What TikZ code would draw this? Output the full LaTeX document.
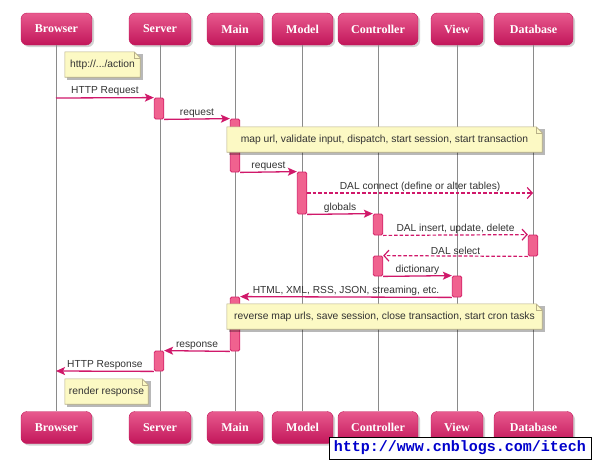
\documentclass[tikz,border=0pt]{standalone}
\usepackage{fontspec}
\setmainfont{Liberation Sans}
\newfontfamily\hdrfont{Liberation Serif}
\newfontfamily\wmfont{Liberation Mono}
\usetikzlibrary{arrows.meta,shadows}
\definecolor{pinkA}{HTML}{E85A8E}
\definecolor{pinkB}{HTML}{C2165A}
\definecolor{actfill}{HTML}{F0628F}
\definecolor{actdraw}{HTML}{D42068}
\definecolor{msgcol}{HTML}{D0186A}
\definecolor{notefill}{HTML}{FCF9C4}
\definecolor{notedraw}{HTML}{B8B088}
\definecolor{lifecol}{HTML}{8A8A8A}
\definecolor{txtcol}{HTML}{333333}
\tikzset{
  hdr/.style={rounded corners=6pt, top color=pinkA, bottom color=pinkB, draw=pinkB,
    text=white, font=\hdrfont\bfseries\fontsize{12}{14}\selectfont,
    minimum height=32pt, inner sep=0pt,
    drop shadow={opacity=0.35, shadow xshift=2pt, shadow yshift=-2pt}},
  life/.style={draw=lifecol, line width=1pt},
  act/.style={draw=actdraw, fill=actfill, line width=0.8pt, rounded corners=1.5pt,
    minimum width=9.5pt, inner sep=0pt},
  noteframe/.style={inner sep=0pt, minimum height=25pt},
  notetext/.style={inner sep=0pt, font=\fontsize{10.3}{12}\selectfont, text=txtcol},
  notebd/.style={draw=notedraw, line width=0.6pt},
  msg/.style={draw=msgcol, line width=1.3pt, -{Stealth[length=9pt,width=8pt,inset=2pt]}},
  dmsg/.style={draw=msgcol, line width=1.2pt, dash pattern=on 3.5pt off 2pt,
    -{Straight Barb[length=5pt,width=11pt,line width=1.2pt]}},
  lbl/.style={midway, above, inner sep=1.2pt, text=txtcol, font=\fontsize{10.2}{12}\selectfont},
}
% #1 name, #2 position, #3 width, #4 text
\newcommand{\umlnote}[4]{%
  \node[noteframe, minimum width=#3] (#1) at (#2) {};
  \fill[black, opacity=0.28] ([xshift=2.5pt,yshift=-2.5pt]#1.south west) -- ([xshift=2.5pt,yshift=-2.5pt]#1.north west)
    -- ([xshift=2.5pt,yshift=-2.5pt]#1.north east) -- ([xshift=2.5pt,yshift=-2.5pt]#1.south east) -- cycle;
  \draw[notebd, fill=notefill] (#1.south west) -- (#1.north west) -- ([xshift=-6pt]#1.north east)
    -- ([yshift=-6pt]#1.north east) -- (#1.south east) -- cycle;
  \draw[notebd] ([xshift=-6pt]#1.north east) -- ([xshift=-6pt,yshift=-6pt]#1.north east)
    -- ([yshift=-6pt]#1.north east);
  \node[notetext] at (#1.center) {#4};
}
\begin{document}
\begin{tikzpicture}[x=1pt,y=-1pt]
\useasboundingbox[fill=white] (0,0) rectangle (594,463);

% headers
\node[hdr, minimum width=71pt] (hB) at (56.5,29) {Browser};
\node[hdr, minimum width=62pt] (hS) at (160,29) {Server};
\node[hdr, minimum width=56pt] (hM) at (235,29) {Main};
\node[hdr, minimum width=61pt] (hMo) at (302.5,29) {Model};
\node[hdr, minimum width=80pt] (hC) at (378,29) {Controller};
\node[hdr, minimum width=52pt] (hV) at (457,29) {View};
\node[hdr, minimum width=79pt] (hD) at (533.5,29) {Database};
% footers
\node[hdr, minimum width=71pt] (fB) at (56.5,427.5) {Browser};
\node[hdr, minimum width=62pt] (fS) at (160,427.5) {Server};
\node[hdr, minimum width=56pt] (fM) at (235,427.5) {Main};
\node[hdr, minimum width=61pt] (fMo) at (302.5,427.5) {Model};
\node[hdr, minimum width=80pt] (fC) at (378,427.5) {Controller};
\node[hdr, minimum width=52pt] (fV) at (457,427.5) {View};
\node[hdr, minimum width=79pt] (fD) at (533.5,427.5) {Database};

% lifelines
\foreach \a/\b in {hB/fB,hS/fS,hM/fM,hMo/fMo,hC/fC,hV/fV,hD/fD}
  \draw[life] (\a.south) -- (\b.north);

% activations
\node[act, minimum height=21pt] (aS1) at (159,108.5) {};
\node[act, minimum height=53pt] (aM1) at (235,145.5) {};
\node[act, minimum height=42pt] (aMo) at (302,193) {};
\node[act, minimum height=21pt] (aC1) at (378,224.5) {};
\node[act, minimum height=21pt] (aD) at (533,245.5) {};
\node[act, minimum height=20pt] (aC2) at (378,266) {};
\node[act, minimum height=21pt] (aV) at (457,286.5) {};
\node[act, minimum height=54pt] (aM2) at (235,324) {};
\node[act, minimum height=20pt] (aS2) at (159,361) {};

% notes
\umlnote{n1}{102.5,64.5}{75pt}{http://.../action}
\umlnote{n2}{384.5,139.5}{315pt}{map url, validate input, dispatch, start session, start transaction}
\umlnote{n3}{384.5,316.5}{315pt}{reverse map urls, save session, close transaction, start cron tasks}
\umlnote{n4}{106.5,391.5}{83pt}{render response}

% free ends
\coordinate (b1) at (56,98);
\coordinate (d1) at (533,193);
\coordinate (b2) at (56,371);

% messages
\draw[msg] (b1) -- node[lbl] {HTTP Request} (aS1.north west);
\draw[msg] (aS1.south east) -- node[lbl] {request} (aM1.north west);
\draw[msg] (aM1.south east) -- node[lbl] {request} (aMo.north west);
\draw[dmsg] (aMo.east |- d1) -- node[lbl] {DAL connect (define or alter tables)} (d1);
\draw[msg] (aMo.south east) -- node[lbl] {globals} (aC1.north west);
\draw[dmsg] (aC1.south east) -- node[lbl] {DAL insert, update, delete} (aD.north west);
\draw[dmsg] (aD.south west) -- node[lbl] {DAL select} (aC2.north east);
\draw[msg] (aC2.south east) -- node[lbl] {dictionary} (aV.north west);
\draw[msg] (aV.south west) -- node[lbl] {HTML, XML, RSS, JSON, streaming, etc.} (aM2.north east);
\draw[msg] (aM2.south west) -- node[lbl] {response} (aS2.north east);
\draw[msg] (aS2.south west) -- node[lbl] {HTTP Response} (b2);

% watermark
\node[draw=black, line width=1pt, fill=white, text=blue!80!black, minimum width=262pt, minimum height=22pt, inner sep=0pt,
  font=\wmfont\bfseries\fontsize{15}{17}\selectfont] (wm) at (460,448) {http://www.cnblogs.com/itech};
\end{tikzpicture}
\end{document}
